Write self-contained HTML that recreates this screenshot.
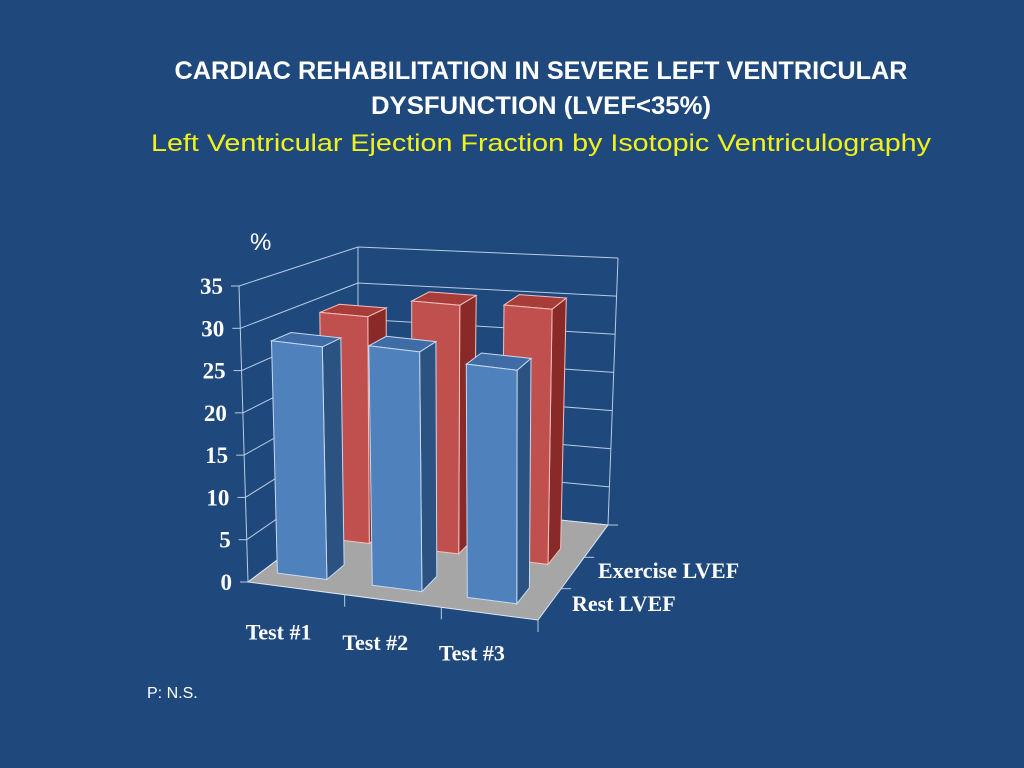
<!DOCTYPE html>
<html><head><meta charset="utf-8"><style>
html,body{margin:0;padding:0;background:#1f497d;width:1024px;height:768px;overflow:hidden}
svg{display:block}
</style></head><body>
<svg id="chart" width="1024" height="768" xmlns="http://www.w3.org/2000/svg">
<rect width="1024" height="768" fill="#1f497d"/>
<text x="541" y="79" text-anchor="middle" font-family="Liberation Sans, sans-serif" font-weight="bold" font-size="25" fill="#fff" textLength="733" lengthAdjust="spacingAndGlyphs">CARDIAC REHABILITATION IN SEVERE LEFT VENTRICULAR</text>
<text x="541" y="114" text-anchor="middle" font-family="Liberation Sans, sans-serif" font-weight="bold" font-size="25" fill="#fff" textLength="340" lengthAdjust="spacingAndGlyphs">DYSFUNCTION (LVEF&lt;35%)</text>
<text x="541" y="151" text-anchor="middle" font-family="Liberation Sans, sans-serif" font-size="24" fill="#f2f21a" textLength="780" lengthAdjust="spacingAndGlyphs">Left Ventricular Ejection Fraction by Isotopic Ventriculography</text>
<text x="250" y="250" font-family="Liberation Sans, sans-serif" font-size="24" fill="#fff">%</text>
<text x="147" y="698" font-family="Liberation Sans, sans-serif" font-size="16" fill="#fff">P: N.S.</text>
<g id="plot"></g>
</svg>
<script>
const categories = ["Test #1", "Test #2", "Test #3"];
const series = ["Rest LVEF", "Exercise LVEF"];
const restValues = [28, 28.8, 28];
const exerciseValues = [29, 31.5, 32];
const yTicks = [0, 5, 10, 15, 20, 25, 30, 35];
const yMax = 35;

const NS = "http://www.w3.org/2000/svg";
const g = document.getElementById('plot');
const FL=[248,582], FR=[538,620], BL=[358,499], BR=[608,525];
function lerp(a,b,t){return a+(b-a)*t;}
function proj(u,v,h){
  const fx=lerp(FL[0],FR[0],u), fy=lerp(FL[1],FR[1],u);
  const bx=lerp(BL[0],BR[0],u), by=lerp(BL[1],BR[1],u);
  const x=lerp(fx,bx,v), y=lerp(fy,by,v);
  const sF=(582-286)/35, sB=lerp((499-247)/35,(525-258)/35,u);
  const s=lerp(sF,sB,v);
  const lean=lerp(lerp(-9,0,u),lerp(0,10,u),v);
  return [x+lean*h/yMax, y-s*h];
}
function mk(tag,attrs){const e=document.createElementNS(NS,tag);for(const k in attrs)e.setAttribute(k,attrs[k]);g.appendChild(e);return e;}
function poly(pts){return pts.map(p=>p[0].toFixed(1)+','+p[1].toFixed(1)).join(' ');}

yTicks.forEach(t=>{
  const a=proj(0,0,t), b=proj(0,1,t), c=proj(1,1,t);
  const l=mk('polyline',{points:poly([a,b,c]),fill:'none',stroke:'#b8cce4','stroke-width':1});
  
  
  const tk=mk('line',{x1:a[0]-8,y1:a[1],x2:a[0],y2:a[1],stroke:'#b8cce4','stroke-width':1});
  
  
  const tx=mk('text',{x:a[0]-16,y:a[1]+8,'text-anchor':'end','font-family':'Liberation Serif, serif','font-weight':'bold','font-size':23,fill:'#fff'});
  tx.textContent=t;
  
  
});
[[0,0],[0,1],[1,1]].forEach(([u,v])=>{
  const a=proj(u,v,0),b=proj(u,v,yMax);
  const l=mk('line',{x1:a[0],y1:a[1],x2:b[0],y2:b[1],stroke:'#b8cce4','stroke-width':1});
  
  
});
const fl=mk('polygon',{points:poly([proj(0,0,0),proj(1,0,0),proj(1,1,0),proj(0,1,0)]),fill:'#a6a6a6',stroke:'#dce6f2','stroke-width':1});


for(let i=1;i<=3;i++){
  const p=proj(i/3,0,0);
  const l=mk('line',{x1:p[0],y1:p[1],x2:p[0],y2:p[1]+12,stroke:'#b8cce4'});
  
  
}
[0.33,0.66,1].forEach(v=>{const p=proj(1,v,0);
  const l=mk('line',{x1:p[0],y1:p[1],x2:p[0]+10,y2:p[1],stroke:'#b8cce4'});
  
  
});
categories.forEach((c,i)=>{
  const p=proj((i+0.42)/3,0,0);
  const t=mk('text',{x:p[0]-10,y:p[1]+52-i*2,'text-anchor':'middle','font-family':'Liberation Serif, serif','font-weight':'bold','font-size':22,fill:'#fff'});
  t.textContent=c;
  
  
});
const sl1=mk('text',{x:598,y:578,'font-family':'Liberation Serif, serif','font-weight':'bold','font-size':22,fill:'#fff'});
sl1.textContent=series[1];


const sl0=mk('text',{x:572,y:611,'font-family':'Liberation Serif, serif','font-weight':'bold','font-size':22,fill:'#fff'});
sl0.textContent=series[0];



function bar(i,v0,val,cols,name){
  const uc=(i+0.42)/3, w=0.087, dv=0.17;
  const u0=uc-w,u1=uc+w,v1=v0+dv;
  const front=[proj(u0,v0,0),proj(u1,v0,0),proj(u1,v0,val),proj(u0,v0,val)];
  const side=[proj(u1,v0,0),proj(u1,v1,0),proj(u1,v1,val),proj(u1,v0,val)];
  const top=[proj(u0,v0,val),proj(u1,v0,val),proj(u1,v1,val),proj(u0,v1,val)];
  const grp=document.createElementNS(NS,'g');g.appendChild(grp);
  
  
  [[side,cols[1]],[top,cols[2]],[front,cols[0]]].forEach(([pts,c])=>{
    const p=document.createElementNS(NS,'polygon');
    p.setAttribute('points',poly(pts));p.setAttribute('fill',c);
    p.setAttribute('stroke',cols[3]);p.setAttribute('stroke-width','1');
    grp.appendChild(p);
  });
}
exerciseValues.forEach((val,i)=>bar(i,0.55,val,['#c0504d','#8a2a28','#a83c39','#f2c0be'],'bar-exercise-test-'+(i+1)));
restValues.forEach((val,i)=>bar(i,0.13,val,['#4f81bd','#2c5282','#3f6ca4','#c6d9f1'],'bar-rest-test-'+(i+1)));
</script>
</body></html>
